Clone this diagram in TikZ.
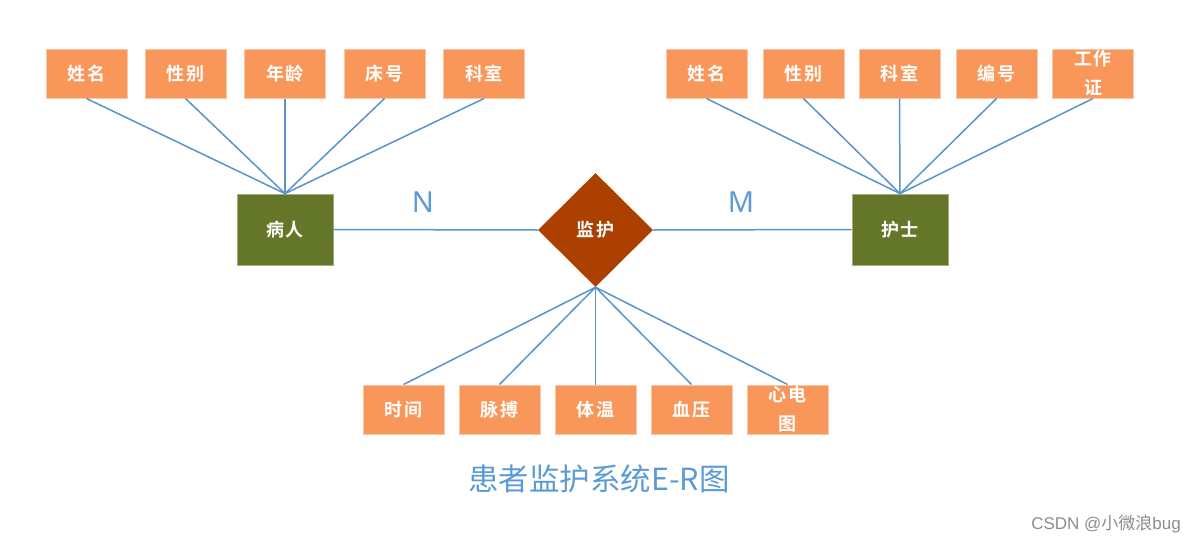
\documentclass[tikz,border=0pt]{standalone}
\usepackage{fontspec}
\setmainfont{Noto Sans CJK SC}
\newfontfamily\boxfont[LetterSpace=10]{Noto Sans CJK SC Bold}
\newfontfamily\entfont[LetterSpace=10]{Noto Sans CJK SC Bold}
\newfontfamily\latfont{Noto Sans}
\newfontfamily\wmfont{Liberation Sans}
\usetikzlibrary{shapes.geometric}
\definecolor{attr}{HTML}{F9975A}
\definecolor{attrb}{HTML}{FBC7A5}
\definecolor{ent}{HTML}{647628}
\definecolor{rel}{HTML}{AC4000}
\definecolor{lnk}{HTML}{5A93CC}
\definecolor{ttl}{HTML}{5B9BD5}
\tikzset{
  attrbox/.style={rectangle, fill=attr, draw=attrb, line width=1pt, minimum width=81pt, minimum height=49pt, inner sep=0pt, text=white, font=\boxfont\fontsize{18}{29}\selectfont, align=center},
  entbox/.style={rectangle, fill=ent, draw=ent!60!white, line width=0.8pt, minimum width=96pt, minimum height=71pt, inner sep=0pt, text=white, font=\entfont\fontsize{18}{20}\selectfont},
  relbox/.style={diamond, fill=rel, minimum width=115pt, minimum height=114pt, inner sep=0pt, text=white, font=\entfont\fontsize{18}{20}\selectfont},
  link/.style={draw=lnk, line width=1.5pt},
  card/.style={text=ttl, font=\latfont\fontsize{29}{32}\selectfont, inner sep=0pt}
}
\begin{document}
\begin{tikzpicture}[x=1pt,y=-1pt]
\useasboundingbox (0,0) rectangle (1195,544);
% entities
\node[entbox] (patient) at (285,229.5) {病人};
\node[entbox] (nurse) at (900,229.5) {护士};
\node[relbox] (monitor) at (595.5,230) {监护};
% patient attributes
\node[attrbox] (p1) at (86.5,73.5) {姓名};
\node[attrbox] (p2) at (185.5,73.5) {性别};
\node[attrbox] (p3) at (285,73.5) {年龄};
\node[attrbox] (p4) at (384.5,73.5) {床号};
\node[attrbox] (p5) at (484,73.5) {科室};
% nurse attributes
\node[attrbox] (n1) at (706.5,73.5) {姓名};
\node[attrbox] (n2) at (803.5,73.5) {性别};
\node[attrbox] (n3) at (899.5,73.5) {科室};
\node[attrbox] (n4) at (996.5,73.5) {编号};
\node[attrbox] (n5) at (1093,73.5) {工作\\证};
% monitoring attributes
\node[attrbox] (m1) at (403.5,409.5) {时间};
\node[attrbox] (m2) at (499.5,409.5) {脉搏};
\node[attrbox] (m3) at (595.5,409.5) {体温};
\node[attrbox] (m4) at (691.5,409.5) {血压};
\node[attrbox] (m5) at (787.5,409.5) {心电\\图};
% links
\foreach \a in {p1,p2,p3,p4,p5} \draw[link] (\a.south) -- (patient.north);
\foreach \a in {n1,n2,n3,n4,n5} \draw[link] (\a.south) -- (nurse.north);
\foreach \a in {m1,m2,m3,m4,m5} \draw[link] (\a.north) -- (monitor.south);
\draw[link] (patient.east) -- (monitor.west);
\draw[link] (monitor.east) -- (nurse.west);
% cardinalities
\node[card] (cn) at (423,202) {N};
\node[card] (cm) at (741,202) {M};
% title
\node[text=ttl, font=\fontsize{30.5}{32}\selectfont, inner sep=0pt] (title) at (599,479) {患者监护系统E-R图};
% watermark
\node[text=black!45, font=\fontsize{17}{20}\selectfont, inner sep=0pt, anchor=east] (wm) at (1181,524) {{\wmfont CSDN @}小微浪{\wmfont bug}};
\end{tikzpicture}
\end{document}
